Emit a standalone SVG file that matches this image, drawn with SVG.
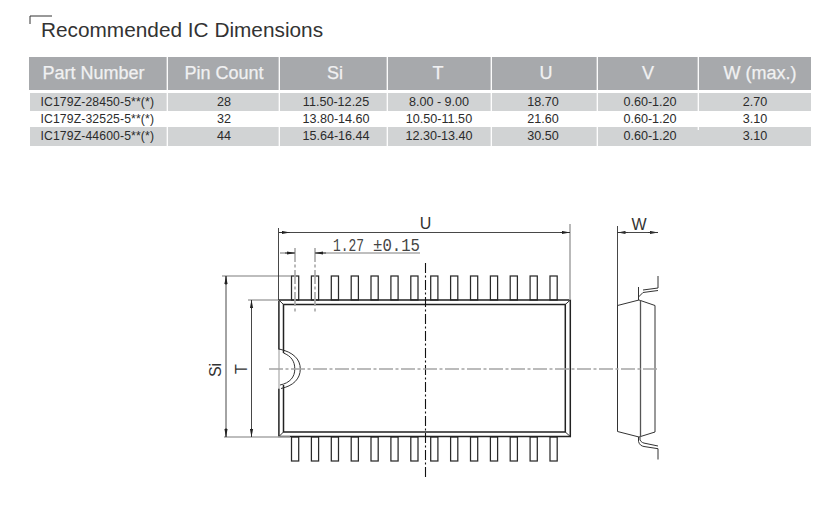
<svg xmlns="http://www.w3.org/2000/svg" width="829" height="509" viewBox="0 0 829 509">
<defs>
<marker id="arr" markerWidth="8" markerHeight="4" refX="8" refY="2" orient="auto-start-reverse" markerUnits="userSpaceOnUse"><path d="M0 0.4L8 2L0 3.6Z" fill="#222"/></marker>
<g id="pin"><rect x="0" y="0" width="7.2" height="24" fill="#fff" stroke="#2a2a2a" stroke-width="1.250"/></g>
</defs>
<style>
.h{font:18px "Liberation Sans",Arial,sans-serif;fill:#f1f1f2;stroke:#f1f1f2;stroke-width:.25;text-anchor:middle}
.c{font:12.600px "Liberation Sans",Arial,sans-serif;fill:#2b2b2b;text-anchor:middle}
.l{font:12.200px "Liberation Sans",Arial,sans-serif;fill:#2b2b2b}
.d{font:16px "Liberation Sans",Arial,sans-serif;fill:#333;text-anchor:middle}
.m{font:18px "Liberation Mono","DejaVu Sans Mono",monospace;fill:#444}
.dim{fill:none;stroke:#333;stroke-width:.9}
.ar{fill:none;stroke:#333;stroke-width:.9;marker-end:url(#arr)}
.gr{fill:none;stroke:#a8a8a8;stroke-width:1.600}
.cl{fill:none;stroke:#a5a5a5;stroke-width:1.600;stroke-dasharray:14 2.500 3 2.500}
.bd{fill:none;stroke:#222;stroke-width:1.500}
.th{fill:none;stroke:#333;stroke-width:1}
</style>
<rect width="829" height="509" fill="#fff"/>
<g id="title">
<path d="M30 24V16H52" fill="none" stroke="#333" stroke-width="1"/>
<text x="41" y="36.500" style="font:20.800px 'Liberation Sans',Arial,sans-serif;fill:#333">Recommended IC Dimensions</text>
</g>
<g id="table">
<rect x="29" y="57" width="782" height="33" fill="#a7a9ac"/>
<rect x="30" y="93" width="781" height="18" fill="#d1d3d4"/>
<rect x="30" y="127" width="781" height="19" fill="#d1d3d4"/>
<g stroke="#fff" stroke-width="1.300">
<path d="M167.300 57V146M279.300 57V146M387.300 57V146M491.300 57V146M597.300 57V146M698.300 57V130"/>
</g>
<text class="h" x="93.500" y="78.500">Part Number</text>
<text class="h" x="224" y="78.500">Pin Count</text>
<text class="h" x="335" y="78.500">Si</text>
<text class="h" x="438" y="78.500">T</text>
<text class="h" x="546" y="78.500">U</text>
<text class="h" x="648" y="78.500">V</text>
<text class="h" x="760" y="78.500">W (max.)</text>
<text class="l" x="40.500" y="106" textLength="113.500">IC179Z-28450-5**(*)</text>
<text class="c" x="224" y="106">28</text><text class="c" x="336" y="106">11.50-12.25</text><text class="c" x="439" y="106">8.00 - 9.00</text><text class="c" x="543" y="106">18.70</text><text class="c" x="650" y="106">0.60-1.20</text><text class="c" x="755" y="106">2.70</text>
<text class="l" x="40.500" y="123" textLength="113.500">IC179Z-32525-5**(*)</text>
<text class="c" x="224" y="123">32</text><text class="c" x="336" y="123">13.80-14.60</text><text class="c" x="439" y="123">10.50-11.50</text><text class="c" x="543" y="123">21.60</text><text class="c" x="650" y="123">0.60-1.20</text><text class="c" x="755" y="123">3.10</text>
<text class="l" x="40.500" y="140" textLength="113.500">IC179Z-44600-5**(*)</text>
<text class="c" x="224" y="140">44</text><text class="c" x="336" y="140">15.64-16.44</text><text class="c" x="439" y="140">12.30-13.40</text><text class="c" x="543" y="140">30.50</text><text class="c" x="650" y="140">0.60-1.20</text><text class="c" x="755" y="140">3.10</text>
</g>
<g id="pins-top">
<use href="#pin" x="291.500" y="276"/><use href="#pin" x="311.400" y="276"/><use href="#pin" x="331.300" y="276"/><use href="#pin" x="351.200" y="276"/><use href="#pin" x="371" y="276"/><use href="#pin" x="390.900" y="276"/><use href="#pin" x="410.800" y="276"/><use href="#pin" x="430.700" y="276"/><use href="#pin" x="450.600" y="276"/><use href="#pin" x="470.500" y="276"/><use href="#pin" x="490.400" y="276"/><use href="#pin" x="510.200" y="276"/><use href="#pin" x="530.100" y="276"/><use href="#pin" x="550" y="276"/>
</g>
<g id="pins-bottom">
<use href="#pin" x="291.500" y="437"/><use href="#pin" x="311.400" y="437"/><use href="#pin" x="331.300" y="437"/><use href="#pin" x="351.200" y="437"/><use href="#pin" x="371" y="437"/><use href="#pin" x="390.900" y="437"/><use href="#pin" x="410.800" y="437"/><use href="#pin" x="430.700" y="437"/><use href="#pin" x="450.600" y="437"/><use href="#pin" x="470.500" y="437"/><use href="#pin" x="490.400" y="437"/><use href="#pin" x="510.200" y="437"/><use href="#pin" x="530.100" y="437"/><use href="#pin" x="550" y="437"/>
</g>
<g id="ic-body">
<path d="M279 349V388" fill="none" stroke="#a8a8a8" stroke-width="1.200"/>
<path class="bd" d="M278.900 349.500V300H570.300V436.500H278.900V388.500"/>
<path class="bd" d="M283.500 353V304.500H565.300V432H283.500V385"/>
<path class="th" d="M278.900 300L283.500 304.500M570.300 300L565.300 304.500M570.300 436.500L565.300 432M278.900 436.500L283.500 432"/>
<path class="th" d="M279 349C293 352 300.300 359 300.300 369C300.300 379 293 386 281 388.500M283.500 353C291 356 294.800 361 294.800 369C294.800 377 290 383 280 385"/>
</g>
<g id="side-view">
<path class="th" d="M617.500 305.500L639 300L655 305.500V432L639 437L617.500 431.500Z"/>
<path d="M640.500 300V437" fill="none" stroke="#555" stroke-width="1.300"/>
<path class="th" d="M638.500 287V300M638.500 297L643 292.500L658 290.500M643 290L658 288V276M638.500 437V441.500C639.500 445 641.500 446 644 446.500L658 448.700V459.500M640 437V440C641.500 442.500 643 443 646 443.500L658 446"/>
</g>
<g id="connectors">
<path class="gr" d="M295 248V312M315 248V312" stroke-dasharray="14 2.500 3 2.500"/>
<path class="gr" d="M222 276H291M248 300H279M224 437H290M250 437H278"/>
<path class="gr" d="M315 253H420"/>
<path class="gr" d="M280 253H295"/>
<path class="dim" d="M278.500 228V300"/>
<path class="gr" d="M570 224V300"/>
<path class="dim" d="M279 232.500H570"/>
<path class="ar" d="M279 232.500H290"/>
<path class="ar" d="M560 232.500H570"/>
<path class="ar" d="M285 253H295"/>
<path class="ar" d="M326 253H315"/>
<path class="dim" d="M226 276V437M251.500 300V437"/>
<path class="ar" d="M226 285V276"/>
<path class="ar" d="M226 428V437"/>
<path class="ar" d="M251.500 309V300"/>
<path class="ar" d="M251.500 428V437"/>
<path class="dim" d="M617.500 226V306"/>
<path class="ar" d="M628 232.500H617.500"/>
<path class="ar" d="M648 232.500H658"/>
<path class="dim" d="M617.500 232.500H658"/>
<path class="dim" d="M425.500 263V478" stroke-dasharray="10 2.500 2 2.500" style="stroke:#111;stroke-width:1.100"/>
<path class="cl" d="M269 369H657"/>
</g>
<g id="dim-labels">
<text class="d" x="425.500" y="229">U</text>
<text class="d" x="639" y="230">W</text>
<text class="m" x="333" y="250.500" textLength="31" lengthAdjust="spacingAndGlyphs">1.27</text>
<text class="m" x="373" y="250.500" textLength="47" lengthAdjust="spacingAndGlyphs">±0.15</text>
<text class="d" transform="translate(221 370) rotate(-90)">Si</text>
<text class="d" transform="translate(247 369) rotate(-90)">T</text>
</g>
</svg>
